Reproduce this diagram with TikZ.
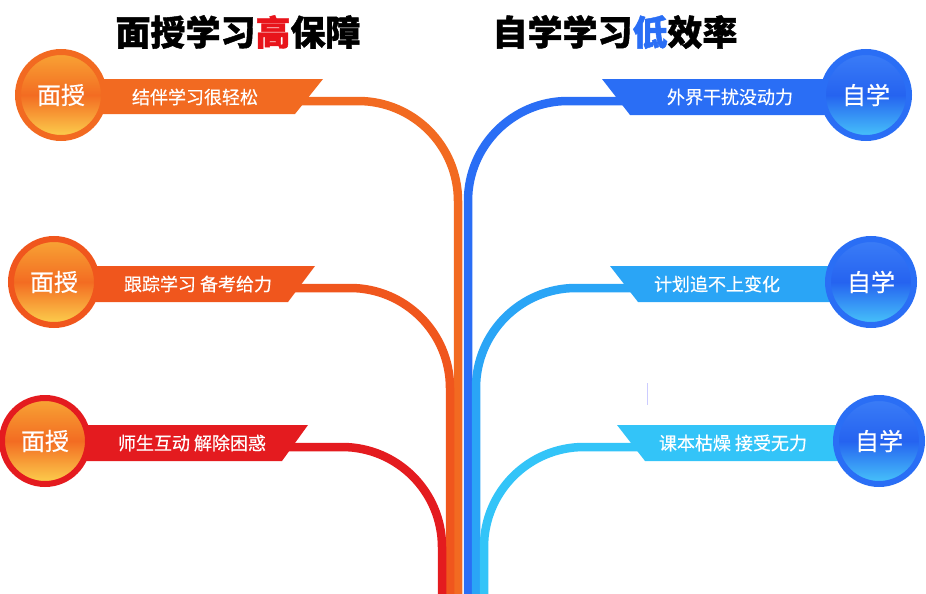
\documentclass[tikz,border=0pt]{standalone}
\usepackage{fontspec}
\newfontfamily\cjk[BoldFeatures={FakeBold=1.2}]{Noto Sans CJK SC}
\newfontfamily\cjkmid[FakeBold=0.5]{Noto Sans CJK SC}
\usepackage{xcolor}
\usetikzlibrary{calc}

\definecolor{faceA}{HTML}{F26A21}
\definecolor{faceB}{HTML}{F0561D}
\definecolor{faceC}{HTML}{E41B1F}
\definecolor{selfA}{HTML}{2A6EF5}
\definecolor{selfB}{HTML}{2AA5F6}
\definecolor{selfC}{HTML}{33C4F8}
\definecolor{faceTop}{HTML}{F8A535}
\definecolor{faceMid}{HTML}{F36C22}
\definecolor{faceBot}{HTML}{FCD24E}
\definecolor{selfTop}{HTML}{3B7DF7}
\definecolor{selfMid}{HTML}{2563F0}
\definecolor{selfBot}{HTML}{48C6FA}
\definecolor{highred}{HTML}{E8141B}

\begin{document}
\begin{tikzpicture}[x=1pt,y=-1pt,
	link/.style={line width=8.5pt,rounded corners=100pt},
	faceball/.style={circle,draw=#1,line width=6pt,minimum size=86pt,inner sep=0pt,
		top color=faceTop,bottom color=faceBot,middle color=faceMid,
		text=white,font=\cjkmid\fontsize{24}{24}\selectfont},
	selfball/.style={circle,draw=#1,line width=6pt,minimum size=86pt,inner sep=0pt,
		top color=selfTop,bottom color=selfBot,middle color=selfMid,
		text=white,font=\cjkmid\fontsize{24}{24}\selectfont},
	bantext/.style={text=white,font=\cjkmid\fontsize{18}{18}\selectfont},
	headline/.style={font=\cjk\bfseries\fontsize{35}{35}\selectfont}]
		
		\useasboundingbox (0,0) rectangle (926,594);
		
		% Headlines
		\node[headline] (hleft) at (238,32) {面授学习\textcolor{highred}{高}保障};
		\node[headline] (hright) at (615,32) {自学学习\textcolor{selfA}{低}效率};
		
		% Ends of the stems
		\coordinate (fa) at (458,594);
		\coordinate (fb) at (450,594);
		\coordinate (fc) at (442,594);
		\coordinate (sa) at (468,594);
		\coordinate (sb) at (476,594);
		\coordinate (sc) at (484,594);
		
		% Starts of the stems
		\coordinate (ka) at (300,101);
		\coordinate (kb) at (290,288);
		\coordinate (kc) at (285,447);
		\coordinate (ma) at (625,101);
		\coordinate (mb) at (633,288);
		\coordinate (mc) at (640,447);
		
		% Stems
		\draw[link,faceA] (ka) -- (ka -| fa) -- (fa);
		\draw[link,faceB] (kb) -- (kb -| fb) -- (fb);
		\draw[link,faceC] (kc) -- (kc -| fc) -- (fc);
		\draw[link,selfA] (ma) -- (ma -| sa) -- (sa);
		\draw[link,selfB] (mb) -- (mb -| sb) -- (sb);
		\draw[link,selfC] (mc) -- (mc -| sc) -- (sc);
		
		% Banners, left
		\fill[faceA] (61,79) -- (323,79) -- (295,114) -- (61,114) -- cycle;
		\fill[faceB] (54,266) -- (315,266) -- (288,302) -- (54,302) -- cycle;
		\fill[faceC] (45,425) -- (308,425) -- (282,461) -- (45,461) -- cycle;
		
		% Banners, right
		\fill[selfA] (866,79) -- (602,79) -- (630,115) -- (866,115) -- cycle;
		\fill[selfB] (871,266) -- (610,266) -- (638,302) -- (871,302) -- cycle;
		\fill[selfC] (879,425) -- (617,425) -- (645,461) -- (879,461) -- cycle;
		
		\node[bantext] (ta) at (195,97) {结伴学习很轻松};
		\node[bantext] (tb) at (198,284) {跟踪学习 备考给力};
		\node[bantext] (tc) at (192,443) {师生互动 解除困惑};
		\node[bantext] (ua) at (730,97) {外界干扰没动力};
		\node[bantext] (ub) at (717,284) {计划追不上变化};
		\node[bantext] (uc) at (733,443) {课本枯燥 接受无力};
		
		% Balls
		\node[faceball=faceA] (ca) at (61,95) {面授};
		\node[faceball=faceB] (cb) at (54,282) {面授};
		\node[faceball=faceC] (cc) at (45,441) {面授};
		\node[selfball=selfA] (da) at (866,95) {自学};
		\node[selfball=selfA] (db) at (871,282) {自学};
		\node[selfball=selfA] (dc) at (879,441) {自学};
		
		% stray mark
		\draw[blue!20,line width=1pt] (647,383) -- (647,405);
		
	\end{tikzpicture}
\end{document}
